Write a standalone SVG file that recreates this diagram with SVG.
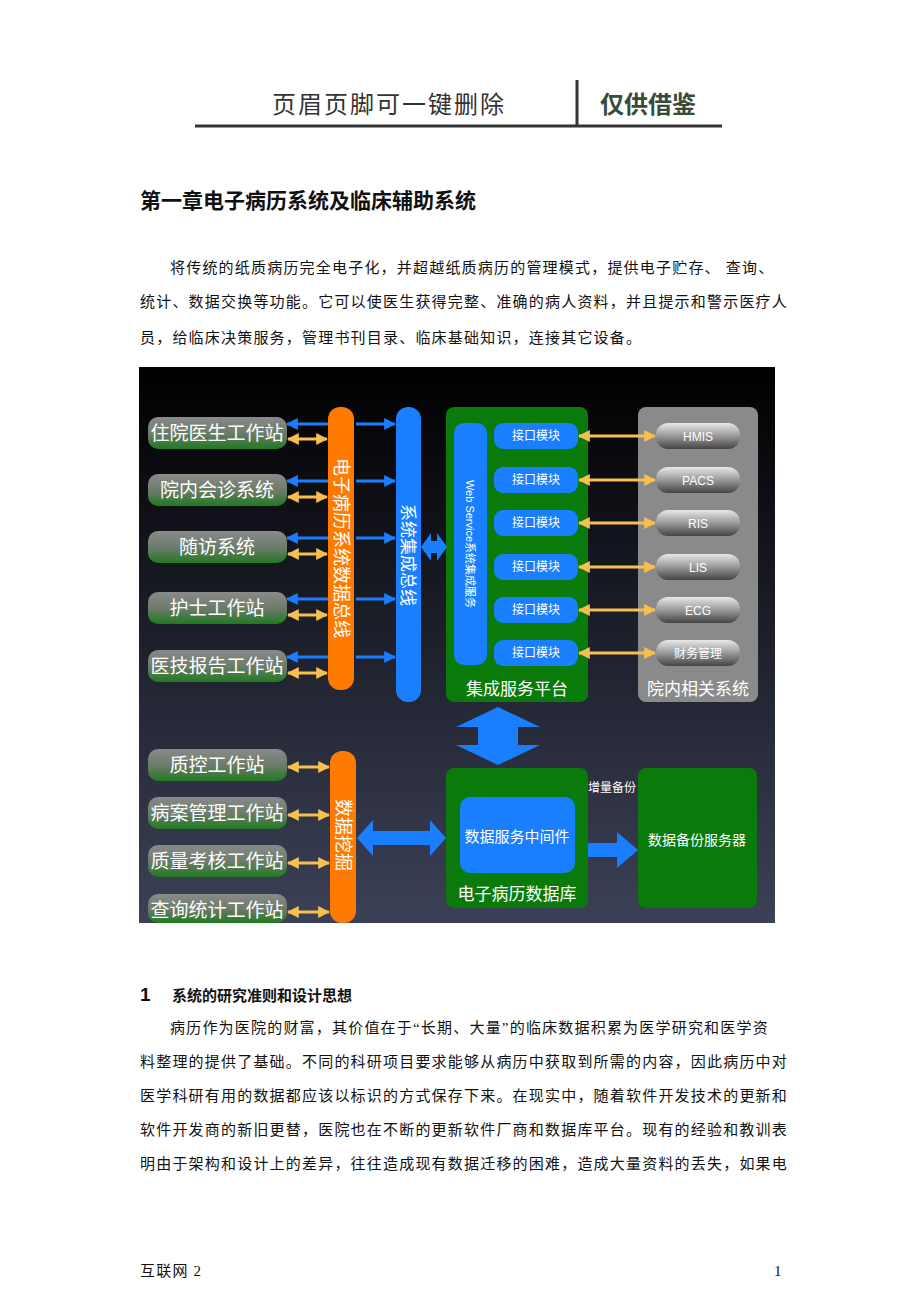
<svg xmlns="http://www.w3.org/2000/svg" width="920" height="1302" viewBox="0 0 920 1302">
<style>
.t{font-family:"Liberation Serif","Noto Sans CJK SC",serif;font-size:15px;fill:#111;letter-spacing:1.2px}
.w{font-family:"Liberation Sans","Noto Sans CJK SC",sans-serif;fill:#fff;text-anchor:middle}
.l{font-size:19px}
.s{font-size:12px}
</style>
<defs>
<linearGradient id="bg" x1="0" y1="0" x2="0" y2="1"><stop offset="0" stop-color="#000"/><stop offset="1" stop-color="#3c4158"/></linearGradient>
<linearGradient id="gg" x1="0" y1="0" x2="0" y2="1"><stop offset="0" stop-color="#8a8a8a"/><stop offset="0.55" stop-color="#6a7a68"/><stop offset="1" stop-color="#1f7a1f"/></linearGradient>
<linearGradient id="pill" x1="0" y1="0" x2="0" y2="1"><stop offset="0" stop-color="#e8e8e8"/><stop offset="0.5" stop-color="#999"/><stop offset="1" stop-color="#444"/></linearGradient>
<marker id="bh" viewBox="0 0 10 10" refX="9" refY="5" markerWidth="4" markerHeight="4" orient="auto-start-reverse"><path d="M0,0L10,5L0,10z" fill="#1a7fff"/></marker>
<marker id="yh" viewBox="0 0 10 10" refX="9" refY="5" markerWidth="4" markerHeight="4" orient="auto-start-reverse"><path d="M0,0L10,5L0,10z" fill="#f5c050"/></marker>
</defs>
<rect width="920" height="1302" fill="#fff"/>
<g id="header">
<text x="272" y="113" font-family="Noto Sans CJK SC,sans-serif" font-size="24" fill="#333" letter-spacing="2">页眉页脚可一键删除</text>
<text x="600" y="113" font-family="Noto Sans CJK SC,sans-serif" font-size="24" font-weight="bold" fill="#3a4a3a">仅供借鉴</text>
<line x1="195" y1="126" x2="722" y2="126" stroke="#333" stroke-width="3"/>
<line x1="577" y1="80" x2="577" y2="126" stroke="#333" stroke-width="3"/>
</g>
<text x="140" y="208" font-family="Noto Sans CJK SC,sans-serif" font-size="21" font-weight="bold" fill="#111">第一章电子病历系统及临床辅助系统</text>
<text class="t" x="170" y="273">将传统的纸质病历完全电子化，并超越纸质病历的管理模式，提供电子贮存、 查询、</text>
<text class="t" x="140" y="307">统计、数据交换等功能。它可以使医生获得完整、准确的病人资料，并且提示和警示医疗人</text>
<text class="t" x="140" y="343">员，给临床决策服务，管理书刊目录、临床基础知识，连接其它设备。</text>

<rect x="139" y="367" width="636" height="556" fill="url(#bg)"/>
<g id="n-left" font-size="19">
<g id="n1"><rect x="148" y="417" width="139" height="32" rx="10" fill="url(#gg)"/><text class="w l" x="217" y="440">住院医生工作站</text></g>
<g id="n2"><rect x="148" y="474" width="139" height="32" rx="10" fill="url(#gg)"/><text class="w l" x="217" y="497">院内会诊系统</text></g>
<g id="n3"><rect x="148" y="531" width="139" height="32" rx="10" fill="url(#gg)"/><text class="w l" x="217" y="554">随访系统</text></g>
<g id="n4"><rect x="148" y="592" width="139" height="32" rx="10" fill="url(#gg)"/><text class="w l" x="217" y="615">护士工作站</text></g>
<g id="n5"><rect x="148" y="650" width="139" height="32" rx="10" fill="url(#gg)"/><text class="w l" x="217" y="673">医技报告工作站</text></g>
<g id="n6"><rect x="148" y="749" width="139" height="32" rx="10" fill="url(#gg)"/><text class="w l" x="217" y="772">质控工作站</text></g>
<g id="n7"><rect x="148" y="797" width="139" height="32" rx="10" fill="url(#gg)"/><text class="w l" x="217" y="820">病案管理工作站</text></g>
<g id="n8"><rect x="148" y="845" width="139" height="32" rx="10" fill="url(#gg)"/><text class="w l" x="217" y="868">质量考核工作站</text></g>
<g id="n9"><rect x="148" y="894" width="139" height="29" rx="10" fill="url(#gg)"/><text class="w l" x="217" y="917">查询统计工作站</text></g>
</g>
<g id="bus1"><rect x="328" y="407" width="26" height="283" rx="12" fill="#ff7a00"/><text class="w" font-size="18" transform="translate(341,548) rotate(90)" y="6">电子病历系统数据总线</text></g>
<g id="bus2"><rect x="396" y="407" width="25" height="295" rx="12" fill="#1a7fff"/><text class="w" font-size="17" transform="translate(408,555) rotate(90)" y="6">系统集成总线</text></g>
<g id="mining"><rect x="330" y="751" width="26" height="172" rx="12" fill="#ff7a00"/><text class="w" font-size="18" transform="translate(343,835) rotate(90)" y="6">数据挖掘</text></g>
<g id="platform"><rect x="446" y="407" width="142" height="295" rx="8" fill="#0a7a0a"/>
<rect x="454" y="423" width="33" height="242" rx="10" fill="#1a7fff"/><text class="w" font-size="11" transform="translate(470,544) rotate(90)" y="4">Web Service系统集成服务</text>
<text class="w" x="517" y="695" font-size="17">集成服务平台</text></g>
<g id="ifaces">
<g id="i1"><rect x="494" y="423" width="84" height="26" rx="9" fill="#1a7fff"/><text class="w s" x="536" y="440">接口模块</text></g>
<g id="i2"><rect x="494" y="467" width="84" height="26" rx="9" fill="#1a7fff"/><text class="w s" x="536" y="484">接口模块</text></g>
<g id="i3"><rect x="494" y="510" width="84" height="26" rx="9" fill="#1a7fff"/><text class="w s" x="536" y="527">接口模块</text></g>
<g id="i4"><rect x="494" y="554" width="84" height="26" rx="9" fill="#1a7fff"/><text class="w s" x="536" y="571">接口模块</text></g>
<g id="i5"><rect x="494" y="597" width="84" height="26" rx="9" fill="#1a7fff"/><text class="w s" x="536" y="614">接口模块</text></g>
<g id="i6"><rect x="494" y="640" width="84" height="26" rx="9" fill="#1a7fff"/><text class="w s" x="536" y="657">接口模块</text></g>
</g>
<g id="hospital"><rect x="638" y="407" width="120" height="295" rx="8" fill="#8a8a8a"/><text class="w" x="698" y="695" font-size="17">院内相关系统</text></g>
<g id="pills">
<g id="p1"><rect x="656" y="423" width="84" height="26" rx="12" fill="url(#pill)"/><text class="w s" x="698" y="441">HMIS</text></g>
<g id="p2"><rect x="656" y="467" width="84" height="26" rx="12" fill="url(#pill)"/><text class="w s" x="698" y="485">PACS</text></g>
<g id="p3"><rect x="656" y="510" width="84" height="26" rx="12" fill="url(#pill)"/><text class="w s" x="698" y="528">RIS</text></g>
<g id="p4"><rect x="656" y="554" width="84" height="26" rx="12" fill="url(#pill)"/><text class="w s" x="698" y="572">LIS</text></g>
<g id="p5"><rect x="656" y="597" width="84" height="26" rx="12" fill="url(#pill)"/><text class="w s" x="698" y="615">ECG</text></g>
<g id="p6"><rect x="656" y="640" width="84" height="26" rx="12" fill="url(#pill)"/><text class="w s" x="698" y="658">财务管理</text></g>
</g>
<g id="db"><rect x="446" y="768" width="142" height="140" rx="8" fill="#0a7a0a"/>
<rect x="460" y="797" width="115" height="76" rx="10" fill="#1a7fff"/><text class="w" x="517" y="842" font-size="15">数据服务中间件</text>
<text class="w" x="517" y="900" font-size="17">电子病历数据库</text></g>
<text class="w s" x="612" y="792">增量备份</text>
<g id="backup"><rect x="638" y="768" width="119" height="140" rx="8" fill="#0a7a0a"/><text class="w" x="697" y="845" font-size="14">数据备份服务器</text></g>
<g id="connectors" stroke-width="3" fill="none">
<g stroke="#1a7fff" marker-start="url(#bh)">
<line x1="287" y1="424" x2="328" y2="424"/><line x1="287" y1="481" x2="328" y2="481"/><line x1="287" y1="538" x2="328" y2="538"/><line x1="287" y1="599" x2="328" y2="599"/><line x1="287" y1="657" x2="328" y2="657"/>
</g>
<g stroke="#1a7fff" marker-end="url(#bh)">
<line x1="356" y1="424" x2="395" y2="424"/><line x1="356" y1="481" x2="395" y2="481"/><line x1="356" y1="538" x2="395" y2="538"/><line x1="356" y1="599" x2="395" y2="599"/><line x1="356" y1="657" x2="395" y2="657"/>
</g>
<g stroke="#f5c050" marker-start="url(#yh)" marker-end="url(#yh)">
<line x1="288" y1="439" x2="327" y2="439"/><line x1="288" y1="497" x2="327" y2="497"/><line x1="288" y1="554" x2="327" y2="554"/><line x1="288" y1="615" x2="327" y2="615"/><line x1="288" y1="673" x2="327" y2="673"/>
<line x1="579" y1="436" x2="655" y2="436"/><line x1="579" y1="480" x2="655" y2="480"/><line x1="579" y1="523" x2="655" y2="523"/><line x1="579" y1="567" x2="655" y2="567"/><line x1="579" y1="610" x2="655" y2="610"/><line x1="579" y1="653" x2="655" y2="653"/>
<line x1="288" y1="767" x2="329" y2="767"/><line x1="288" y1="815" x2="329" y2="815"/><line x1="288" y1="863" x2="329" y2="863"/><line x1="288" y1="912" x2="329" y2="912"/>
</g>
<path d="M421,547 L431,533 L431,541 L437,541 L437,533 L447,547 L437,561 L437,553 L431,553 L431,561 Z" fill="#1a7fff"/>
<path d="M498,707 L540,727 L518,727 L518,745 L540,745 L498,765 L456,745 L478,745 L478,727 L456,727 Z" fill="#1a7fff"/>
<path d="M357,838 L373,820 L373,831 L430,831 L430,820 L446,838 L430,856 L430,845 L373,845 L373,856 Z" fill="#1a7fff"/>
<path d="M588,843 L617,843 L617,832 L638,850 L617,868 L617,857 L588,857 Z" fill="#1a7fff"/>
</g>

<text x="140" y="1001" font-family="Liberation Sans,sans-serif" font-size="19" font-weight="bold" fill="#111">1</text>
<text x="172" y="1001" font-family="Noto Sans CJK SC,sans-serif" font-size="15" font-weight="bold" fill="#111">系统的研究准则和设计思想</text>
<text class="t" x="170" y="1033">病历作为医院的财富，其价值在于“长期、大量”的临床数据积累为医学研究和医学资</text>
<text class="t" x="140" y="1067">料整理的提供了基础。不同的科研项目要求能够从病历中获取到所需的内容，因此病历中对</text>
<text class="t" x="140" y="1101">医学科研有用的数据都应该以标识的方式保存下来。在现实中，随着软件开发技术的更新和</text>
<text class="t" x="140" y="1135">软件开发商的新旧更替，医院也在不断的更新软件厂商和数据库平台。现有的经验和教训表</text>
<text class="t" x="140" y="1169">明由于架构和设计上的差异，往往造成现有数据迁移的困难，造成大量资料的丢失，如果电</text>
<text class="t" x="140" y="1276" font-size="14">互联网 2</text>
<text class="t" x="774" y="1276" font-size="14">1</text>
</svg>
